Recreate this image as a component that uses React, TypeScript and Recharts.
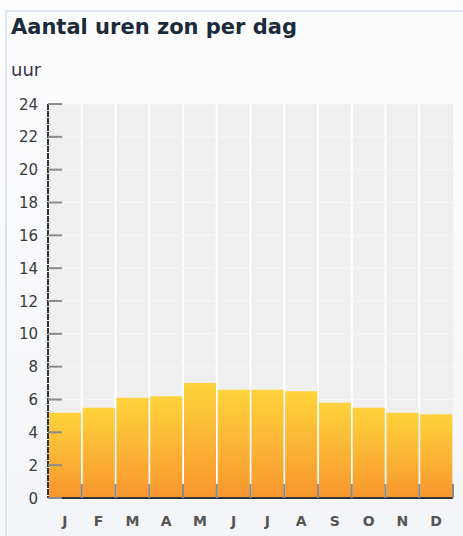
import React from "react";
import { BarChart, Bar, XAxis, YAxis, CartesianGrid } from "recharts";

const months = ["J", "F", "M", "A", "M", "J", "J", "A", "S", "O", "N", "D"];
const sunHours = [5.2, 5.5, 6.1, 6.2, 7.0, 6.6, 6.6, 6.5, 5.8, 5.5, 5.2, 5.1];
const yTicks = [0, 2, 4, 6, 8, 10, 12, 14, 16, 18, 20, 22, 24];

const data = months.map((m, i) => ({ key: i, month: m, hours: sunHours[i] }));

const W = 463;
const H = 536;
const margin = { top: 104, right: 10, bottom: 8, left: 8 };
const yAxisWidth = 40;
const plotLeft = margin.left + yAxisWidth;
const plotWidth = W - margin.right - plotLeft;
const band = plotWidth / months.length;

const YTick = (props: any) => {
  const { x, y, payload } = props;
  return (
    <g>
      <line x1={x + 10} x2={x + 24} y1={y} y2={y} stroke="#8a8a8a" strokeWidth={2} />
      <text x={x} y={y} dy={5.5} textAnchor="end" fontSize={15} fill="#3a3a3a" fontFamily="DejaVu Sans">
        {payload.value}
      </text>
    </g>
  );
};

const XTick = (props: any) => {
  const { x, y, payload, index } = props;
  return (
    <g>
      {index > 0 && (
        <line x1={x - band / 2} x2={x - band / 2} y1={y - 14} y2={y} stroke="#8a8a8a" strokeWidth={2} />
      )}
      {index === months.length - 1 && (
        <line x1={x + band / 2} x2={x + band / 2} y1={y - 14} y2={y} stroke="#8a8a8a" strokeWidth={2} />
      )}
      <text x={x} y={y} dy={28} textAnchor="middle" fontSize={14} fontWeight="bold" fill="#555" fontFamily="DejaVu Sans">
        {months[payload.value]}
      </text>
    </g>
  );
};

export default function App() {
  return (
    <div
      style={{
        position: "absolute",
        left: 0,
        top: 0,
        width: W,
        height: H,
        background: "linear-gradient(#fdfdfe, #f4f5f8)",
        fontFamily: "DejaVu Sans",
      }}
    >
      <div
        style={{
          position: "absolute",
          left: 5,
          top: 10,
          width: W - 5,
          height: H - 10,
          borderTop: "2px solid #dde4f2",
          borderLeft: "2px solid #dde4f2",
          boxSizing: "border-box",
        }}
      />
      <div
        style={{
          position: "absolute",
          left: 11,
          top: 15,
          fontSize: 21,
          fontWeight: "bold",
          color: "#1c2b3a",
          whiteSpace: "nowrap",
        }}
      >
        Aantal uren zon per dag
      </div>
      <div
        style={{
          position: "absolute",
          left: 11,
          top: 59,
          fontSize: 18,
          color: "#3b3352",
        }}
      >
        uur
      </div>
      <div style={{ position: "absolute", left: 0, top: 0 }}>
        <BarChart width={W} height={H} data={data} margin={margin} barCategoryGap={1}>
          <defs>
            <linearGradient id="sunGrad" x1="0" y1="0" x2="0" y2="1">
              <stop offset="0%" stopColor="#ffd33b" />
              <stop offset="100%" stopColor="#f8962f" />
            </linearGradient>
          </defs>
          <CartesianGrid
            fill="#efefef"
            stroke="#ffffff"
            strokeWidth={2}
            horizontal={false}
            verticalCoordinatesGenerator={({ offset }: any) =>
              months.slice(1).map((_, i) => offset.left + ((i + 1) * offset.width) / months.length)
            }
          />
          <CartesianGrid fill="none" stroke="#f7f7f7" strokeWidth={1} vertical={false} />
          <XAxis
            dataKey="key"
            type="category"
            axisLine={{ stroke: "#333", strokeWidth: 2 }}
            tickLine={false}
            tickSize={0}
            tickMargin={0}
            tick={<XTick />}
            height={30}
            interval={0}
          />
          <YAxis
            domain={[0, 24]}
            ticks={yTicks}
            interval={0}
            width={yAxisWidth}
            tickSize={0}
            tickMargin={10}
            axisLine={{ stroke: "#333", strokeWidth: 2, strokeDasharray: "6 1" }}
            tickLine={false}
            tick={<YTick />}
          />
          <Bar dataKey="hours" fill="url(#sunGrad)" isAnimationActive={false} />
        </BarChart>
      </div>
    </div>
  );
}
